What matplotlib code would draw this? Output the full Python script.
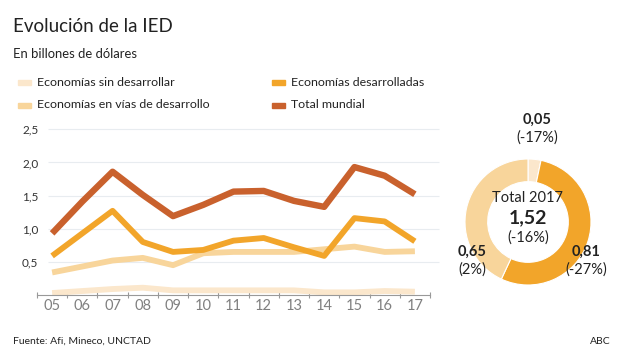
import matplotlib.pyplot as plt

plt.rcParams['font.family'] = ['Lato', 'DejaVu Sans']

years = ['05', '06', '07', '08', '09', '10', '11', '12', '13', '14', '15', '16', '17']
sin_desarrollar = [0.03, 0.06, 0.09, 0.11, 0.07, 0.07, 0.07, 0.07, 0.07, 0.04, 0.04, 0.06, 0.05]
en_desarrollo = [0.34, 0.43, 0.52, 0.56, 0.45, 0.63, 0.65, 0.65, 0.65, 0.69, 0.73, 0.65, 0.66]
desarrolladas = [0.59, 0.93, 1.27, 0.80, 0.65, 0.68, 0.82, 0.86, 0.72, 0.59, 1.16, 1.11, 0.81]
total = [0.93, 1.41, 1.86, 1.51, 1.19, 1.36, 1.56, 1.57, 1.42, 1.33, 1.93, 1.80, 1.52]

donut_values = [0.05, 0.81, 0.65]
donut_labels = ['0,05', '0,81', '0,65']
donut_changes = ['(-17%)', '(-27%)', '(2%)']

c_sin = '#fbe7cc'
c_vias = '#f8d59b'
c_des = '#f2a52a'
c_tot = '#c9612d'

W, H = 620, 348
fig = plt.figure(figsize=(W / 100, H / 100), dpi=100)


def px(x, y):
    # pixel (from top-left) -> figure fraction
    return x / W, 1 - y / H


# titles
fig.text(*px(13, 27), 'Evolución de la IED', fontsize=13.5, color='#222222', va='center')
fig.text(*px(13, 54), 'En billones de dólares', fontsize=9.4, color='#222222', va='center')

# legend
legend = [
    (18, 82, c_sin, 'Economías sin desarrollar'),
    (18, 105, c_vias, 'Economías en vías de desarrollo'),
    (272, 82, c_des, 'Economías desarrolladas'),
    (272, 105, c_tot, 'Total mundial'),
]
for x, y, col, lab in legend:
    fig.patches.append(plt.Rectangle(px(x, y + 2.5), 13 / W, 5 / H, color=col,
                                     transform=fig.transFigure, figure=fig))
    fig.text(*px(x + 19, y), lab, fontsize=8.9, color='#222222', va='center')

# line chart
l, r, t, b = 37, 430, 129.3, 295
ax = fig.add_axes([l / W, 1 - b / H, (r - l) / W, (b - t) / H])
x = list(range(len(years)))
ax.set_xlim(-0.5, 12.5)
ax.set_ylim(0, 2.5)
for v in [0.5, 1.0, 1.5, 2.0, 2.5]:
    ax.hlines(v, -0.14, 12.8, color='#e8ecf0', lw=0.8, clip_on=False, zorder=0)

ax.plot(x, sin_desarrollar, color=c_sin, lw=4.2, solid_capstyle='butt', clip_on=False)
ax.plot(x, en_desarrollo, color=c_vias, lw=4.2, solid_capstyle='butt')
ax.plot(x, desarrolladas, color=c_des, lw=4.2, solid_capstyle='butt')
ax.plot(x, total, color=c_tot, lw=4.6, solid_capstyle='butt')

for s in ['top', 'right', 'left']:
    ax.spines[s].set_visible(False)
ax.spines['bottom'].set_color('#999999')
ax.spines['bottom'].set_linewidth(0.8)
ax.set_yticks([0.5, 1.0, 1.5, 2.0, 2.5])
ax.set_yticklabels(['0,5', '1,0', '1,5', '2,0', '2,5'], fontsize=8.5, color='#333333')
ax.tick_params(axis='y', length=0, pad=-1)
ax.set_xticks([i + 0.5 for i in range(-1, 13)])
ax.set_xticklabels([])
ax.tick_params(axis='x', direction='inout', length=4, width=0.8, color='#999999')
ax.set_xticks(x, minor=True)
ax.set_xticklabels(years, minor=True, fontsize=10.5, color='#808080')
ax.tick_params(axis='x', which='minor', length=0, pad=3)

# donut
cx, cy, rad = 528, 222, 63
ax2 = fig.add_axes([(cx - rad) / W, 1 - (cy + rad) / H, 2 * rad / W, 2 * rad / H])
ax2.pie(donut_values, colors=[c_sin, c_des, c_vias], startangle=90, counterclock=False,
        radius=1, wedgeprops=dict(width=0.36, edgecolor='white', linewidth=0.8))
ax2.set_xlim(-1, 1)
ax2.set_ylim(-1, 1)
ax2.set_aspect('equal')
ax2.axis('off')

fig.text(*px(cx, 198), 'Total 2017', fontsize=10.5, ha='center', va='center', color='#222222')
fig.text(*px(cx, 218), '1,52', fontsize=14, fontweight='bold', ha='center', va='center', color='#222222')
fig.text(*px(cx, 238), '(-16%)', fontsize=10.5, ha='center', va='center', color='#222222')

label_pos = [(537, 120), (586, 252), (472, 252)]
for (lx, ly), val, ch in zip(label_pos, donut_labels, donut_changes):
    fig.text(*px(lx, ly), val, fontsize=10.5, fontweight='bold', ha='center', va='center', color='#222222')
    fig.text(*px(lx, ly + 18), ch, fontsize=10.5, ha='center', va='center', color='#222222')

# footer
fig.text(*px(13, 341), 'Fuente: Afi, Mineco, UNCTAD', fontsize=7.5, va='center', color='#222222')
fig.text(*px(611, 341), 'ABC', fontsize=7.5, ha='right', va='center', color='#222222')

fig.savefig('out.png', dpi=100)
